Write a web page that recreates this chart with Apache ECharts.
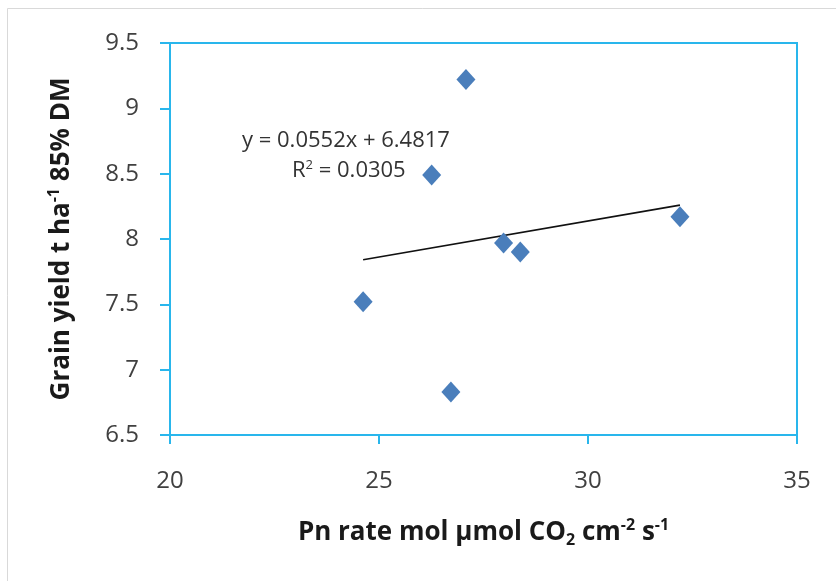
<!DOCTYPE html>
<html><head><meta charset="utf-8">
<script src="https://cdn.jsdelivr.net/npm/echarts@6/dist/echarts.min.js"></script>
<style>html,body{margin:0;padding:0;background:#fff}#c{width:836px;height:581px}</style>
</head><body><div id="c"></div>
<script>
var pnRate = [24.62, 26.26, 26.72, 27.08, 27.98, 28.38, 32.2];
var grainYield = [7.52, 8.49, 6.83, 9.22, 7.97, 7.90, 8.17];
var trendSlope = 0.0552;
var trendIntercept = 6.4817;
var xTicks = [20, 25, 30, 35];
var yTicks = [6.5, 7, 7.5, 8, 8.5, 9, 9.5];
var eqText = 'y = 0.0552x + 6.4817';
var r2Text = '{b|R}{s|2}{b| = 0.0305}';

var xMin = Math.min.apply(null, pnRate), xMax = Math.max.apply(null, pnRate);
var trend = [[xMin, trendSlope*xMin+trendIntercept],[xMax, trendSlope*xMax+trendIntercept]];
var axisBlue = '#29b6ec';
var FF = 'Open Sans';
var titleRich = {
  b:{fontSize:26,fontWeight:'bold',color:'#1a1a1a',fontFamily:FF,lineHeight:36,verticalAlign:'middle'},
  sup:{fontSize:16,fontWeight:'bold',color:'#1a1a1a',fontFamily:FF,lineHeight:36,verticalAlign:'top',padding:[2,0,0,0]},
  sub:{fontSize:16,fontWeight:'bold',color:'#1a1a1a',fontFamily:FF,lineHeight:36,verticalAlign:'bottom',padding:[0,0,3,0]}
};
var chart = echarts.init(document.getElementById('c'));
chart.setOption({
  animation:false,
  backgroundColor:'#fff',
  grid:{left:170,right:39,top:43,bottom:146,show:true,borderColor:axisBlue,borderWidth:2},
  xAxis:{type:'value',min:xTicks[0],max:xTicks[xTicks.length-1],interval:5,
    axisLine:{onZero:false,lineStyle:{color:axisBlue,width:2}},
    axisTick:{show:true,length:9,lineStyle:{color:axisBlue,width:2}},
    splitLine:{show:false},
    axisLabel:{color:'#404040',fontSize:24,fontFamily:FF,margin:34},
    name:'{b|Pn rate mol µmol CO}{sub|2}{b| cm}{sup|-2}{b| s}{sup|-1}',nameLocation:'middle',nameGap:80,
    nameTextStyle:{rich:titleRich}},
  yAxis:{type:'value',min:yTicks[0],max:yTicks[yTicks.length-1],interval:0.5,
    axisLine:{onZero:false,lineStyle:{color:axisBlue,width:2}},
    axisTick:{show:true,length:10,lineStyle:{color:axisBlue,width:2}},
    splitLine:{show:false},
    axisLabel:{color:'#404040',fontSize:24,fontFamily:FF,margin:31},
    name:'{b|Grain yield t ha}{sup|-1}{b| 85% DM}',nameLocation:'middle',nameGap:90,
    nameTextStyle:{rich:titleRich}},
  graphic:[
    {type:'rect',shape:{x:7.5,y:8.5,width:840,height:600},style:{fill:'none',stroke:'#d9d9d9',lineWidth:1},silent:true,z:-1},
    {type:'text',x:242,y:141,style:{text:eqText,fill:'#333',fontSize:22,fontFamily:FF,verticalAlign:'middle'}},
    {type:'text',x:292,y:171,style:{text:r2Text,verticalAlign:'middle',rich:{
      b:{fill:'#333',fontSize:22,fontFamily:FF,lineHeight:26,verticalAlign:'middle'},
      s:{fill:'#333',fontSize:13,fontFamily:FF,lineHeight:26,verticalAlign:'top',padding:[1,0,0,0]}}}}
  ],
  series:[
    {type:'line',data:trend,symbol:'none',lineStyle:{color:'#111',width:1.6},z:1},
    {type:'scatter',data:pnRate.map(function(x,i){return [x,grainYield[i]];}),symbol:'diamond',symbolSize:[19,21],
      itemStyle:{color:'#4a7ebb',opacity:1},z:2}
  ]
});
</script></body></html>
